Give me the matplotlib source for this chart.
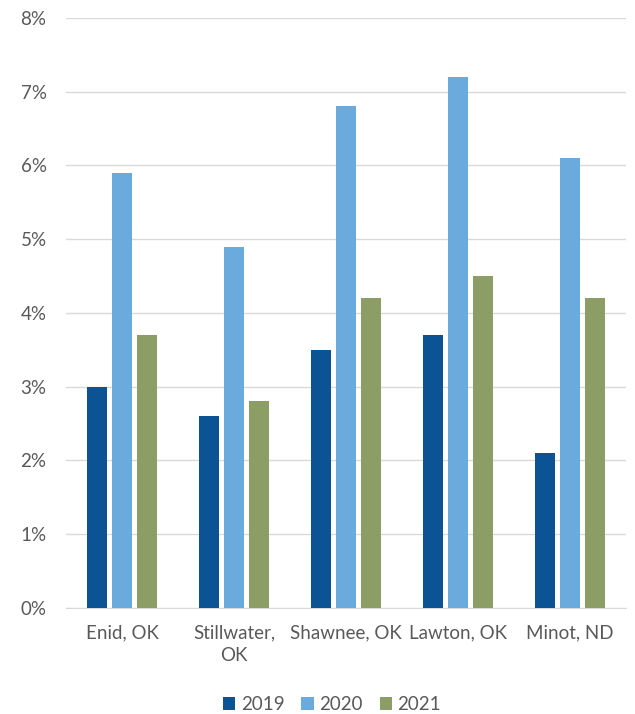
import numpy as np
import matplotlib.pyplot as plt
from matplotlib.patches import Patch
from matplotlib.ticker import FuncFormatter

plt.rcParams['font.family'] = ['Lato', 'DejaVu Sans']

cities = ["Enid, OK", "Stillwater,\nOK", "Shawnee, OK", "Lawton, OK", "Minot, ND"]
years = ["2019", "2020", "2021"]
rate_2019 = [3.0, 2.6, 3.5, 3.7, 2.1]
rate_2020 = [5.9, 4.9, 6.8, 7.2, 6.1]
rate_2021 = [3.7, 2.8, 4.2, 4.5, 4.2]
colors = ["#0B5394", "#6AAADC", "#8C9D65"]

fig = plt.figure(figsize=(6.35, 7.14), dpi=100)
ax = fig.add_axes([0.104, 0.1485, 0.882, 0.8265])

x = np.arange(len(cities))
width = 0.18
step = 0.223
for i, (vals, c) in enumerate(zip([rate_2019, rate_2020, rate_2021], colors)):
    ax.bar(x + (i - 1) * step, vals, width, color=c, zorder=3)

ax.set_xlim(-0.5, len(cities) - 0.5)
ax.set_ylim(0, 8)
ax.set_yticks(range(0, 9))
ax.yaxis.set_major_formatter(FuncFormatter(lambda v, p: f"{int(v)}%"))
ax.grid(axis="y", color="#D9D9D9", linewidth=1, zorder=0)
for s in ["top", "right", "left"]:
    ax.spines[s].set_visible(False)
ax.spines["bottom"].set_color("#D9D9D9")
ax.tick_params(axis="both", length=0, colors="#595959", labelsize=13.5)
ax.tick_params(axis="y", pad=14)
ax.tick_params(axis="x", pad=12)
ax.set_xticks(x)
ax.set_xticklabels(cities, linespacing=1.4)

handles = [Patch(facecolor=c) for c in colors]
fig.legend(handles, years, loc="center", bbox_to_anchor=(0.523, 0.013), ncol=3,
           frameon=False, fontsize=13.5, handlelength=0.65, handleheight=0.65,
           handletextpad=0.3, columnspacing=0.9, labelcolor="#595959")

fig.savefig("out.png", dpi=100)
